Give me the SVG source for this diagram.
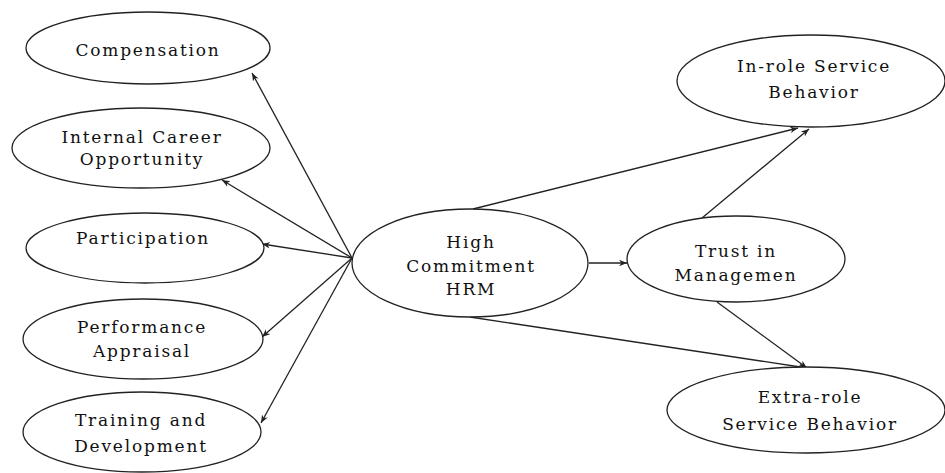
<svg xmlns="http://www.w3.org/2000/svg" width="945" height="473" viewBox="0 0 945 473">
<style>
.n ellipse{fill:#fff;stroke:#222;stroke-width:1.3}
.n text{font-family:"DejaVu Serif","Liberation Serif",serif;font-size:17px;letter-spacing:1.8px;fill:#111;text-anchor:middle}
#edges line{stroke:#222;stroke-width:1.3;fill:none;marker-end:url(#ah)}
</style>
<defs>
<marker id="ah" viewBox="0 0 10 10" refX="10" refY="5" markerWidth="8" markerHeight="8" markerUnits="userSpaceOnUse" orient="auto">
<path d="M0,1 L10,5 L0,9 L3,5 Z" fill="#222"/>
</marker>
</defs>
<rect width="945" height="473" fill="#fff"/>
<g id="edges">
<line x1="352" y1="258" x2="252" y2="73"/>
<line x1="352" y1="258" x2="222" y2="180"/>
<line x1="352" y1="258" x2="262" y2="244"/>
<line x1="352" y1="258" x2="262" y2="337"/>
<line x1="352" y1="258" x2="261" y2="423"/>
<line x1="473" y1="209" x2="798" y2="128"/>
<line x1="702" y1="218" x2="809" y2="129"/>
<line x1="589" y1="263" x2="627" y2="263"/>
<line x1="470" y1="317" x2="807" y2="368"/>
<line x1="717" y1="302" x2="807" y2="368"/>
</g>
<g id="compensation" class="n"><ellipse cx="148" cy="48" rx="122" ry="36"/><text x="148" y="56">Compensation</text></g>
<g id="internal-career" class="n"><ellipse cx="141" cy="148" rx="129" ry="40"/><text x="142" y="143">Internal Career</text><text x="142" y="165">Opportunity</text></g>
<g id="participation" class="n"><ellipse cx="145" cy="248" rx="119" ry="35"/><text x="143" y="244">Participation</text></g>
<g id="performance" class="n"><ellipse cx="143" cy="339" rx="120" ry="40"/><text x="142" y="333">Performance</text><text x="142" y="357">Appraisal</text></g>
<g id="training" class="n"><ellipse cx="142" cy="432" rx="119" ry="40"/><text x="141" y="426">Training and</text><text x="141" y="452">Development</text></g>
<g id="hchrm" class="n"><ellipse cx="470" cy="263" rx="118" ry="54"/><text x="471" y="248">High</text><text x="471" y="272">Commitment</text><text x="471" y="295">HRM</text></g>
<g id="trust" class="n"><ellipse cx="736" cy="259" rx="109" ry="43"/><text x="736" y="257">Trust in</text><text x="736" y="281">Managemen</text></g>
<g id="inrole" class="n"><ellipse cx="811" cy="81" rx="134" ry="46"/><text x="814" y="72">In-role Service</text><text x="814" y="98">Behavior</text></g>
<g id="extrarole" class="n"><ellipse cx="806" cy="410" rx="139" ry="43"/><text x="810" y="403">Extra-role</text><text x="810" y="430">Service Behavior</text></g>
</svg>
